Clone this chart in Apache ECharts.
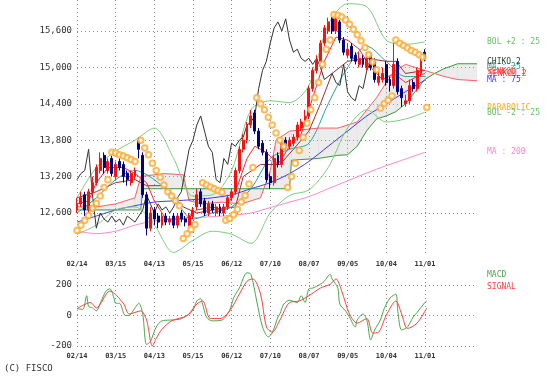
<!DOCTYPE html>
<html><head><meta charset="utf-8">
<script src="https://cdn.jsdelivr.net/npm/echarts@6/dist/echarts.min.js"></script>
<style>html,body{margin:0;padding:0;background:#fff;overflow:hidden}#c{width:552px;height:383px}</style>
</head><body><div id="c"></div><script>
// ---- tick labels (trading-day index 0,20,...,180) ----
const dateLabels = ['02/14','03/15','04/13','05/15','06/12','07/10','08/07','09/05','10/04','11/01'];
const priceTicks = [12600, 13200, 13800, 14400, 15000, 15600];

// ---- candles (one per two trading days) ----
const opens = [12650,12750,12900,12650,12950,13100,13300,13550,13300,13500,
 13200,13450,13400,13250,13100,13200,13800,13550,12900,12350,
 12650,12550,12400,12550,12450,12550,12400,12600,12500,12400,
 12550,12700,12950,12800,12600,12750,12600,12700,12600,12700,
 12850,12950,13300,13650,13800,14050,14250,13950,13750,13600,
 13200,13100,13550,13400,13800,13700,13750,13850,14000,14100,
 14200,14650,14950,15100,15400,15600,15800,15600,15750,15450,
 15200,15350,15200,15050,15150,15000,15200,15100,14750,14800,
 15050,14800,14700,15100,14650,14400,14450,14750,14650,14900,
 15250];
const closes = [12750,12850,12650,12950,13100,13350,13500,13350,13450,13250,
 13400,13350,13200,13150,13250,13300,13650,12900,12350,12600,
 12500,12450,12550,12450,12500,12400,12550,12500,12450,12550,
 12650,12900,12750,12600,12750,12650,12700,12600,12700,12850,
 12950,13300,13650,13800,14050,14200,13950,13700,13600,13150,
 13100,13500,13400,13750,13700,13800,13850,14050,14100,14200,
 14650,14950,15100,15400,15650,15750,15600,15800,15450,15250,
 15300,15150,15100,15150,15050,15150,15000,14800,14850,14900,
 14750,14700,15050,14600,14500,14450,14700,14650,14950,15100,
 15150];
const highs = [12850,12950,12950,13000,13200,13400,13600,13600,13500,13550,
 13450,13500,13450,13300,13300,13350,13850,13600,12950,12700,
 12700,12600,12600,12600,12550,12600,12600,12650,12550,12600,
 12700,13000,13000,12850,12800,12800,12750,12750,12750,12900,
 13000,13350,13700,13900,14100,14300,14300,14000,13800,13650,
 13250,13550,13600,13800,13850,13850,13900,14100,14150,14300,
 14700,15000,15200,15450,15700,15820,15830,15850,15780,15500,
 15400,15400,15250,15250,15200,15250,15250,15150,14950,15000,
 15100,14850,15400,15150,14700,14550,14800,14800,15000,15150,
 15300];
const lows = [12600,12700,12550,12600,12900,13050,13250,13250,13250,13200,
 13150,13300,13100,13050,13050,13150,13500,12850,12230,12300,
 12400,12350,12350,12400,12400,12350,12350,12450,12380,12380,
 12500,12650,12700,12550,12550,12600,12550,12550,12550,12650,
 12800,12900,13250,13600,13750,14000,13900,13650,13550,13100,
 13000,13050,13350,13350,13650,13650,13700,13800,13950,14050,
 14150,14600,14900,15050,15350,15550,15550,15550,15400,15200,
 15150,15100,15050,15000,15000,14950,14950,14750,14700,14750,
 14700,14600,14650,14550,14350,14350,14400,14600,14600,14850,
 15100];

// ---- moving averages & bollinger (sampled every 10 days) ----
const lineDays = [0,10,20,30,40,50,60,70,80,90,100,110,120,130,140,150,160,170,180];
const ma25  = [12600,12850,13150,13300,13150,12850,12500,12600,12700,13000,13500,13650,13750,14400,15000,15350,15100,14850,14850];
const ma75  = [12450,12550,12650,12720,12780,12800,12820,12850,12900,13000,13100,13250,13450,13700,13950,14200,14400,14600,14790];
const ma200 = [12300,12260,12300,12400,12470,12500,12520,12540,12560,12600,12690,12780,12870,13000,13130,13260,13380,13490,13600];
const bolUp = [12850,13350,13620,13800,14000,13500,12880,12900,13300,14300,14450,14420,14700,15700,16050,16000,15450,15380,15420];
const bolDn = [12250,12400,12650,12700,12400,11950,12150,12300,12250,12100,12600,12890,12980,13350,14000,14300,14100,14150,14260];

// ---- ichimoku ----
const tenkanDays = [0,6,10,16,24,30,36,40,46,56,62,70,76,82,88,92,98,104,110,116,122,128,134,140,146,152,158,164,170,176,180];
const tenkan = [12750,12800,13100,13350,13350,13250,13100,12800,12500,12500,12650,12700,12650,12950,13500,13700,13600,13400,13700,13900,14500,15100,15500,15450,15300,15000,14800,14900,14750,14850,14900];
const kijunDays = [0,10,20,30,36,45,55,62,70,82,86,95,105,112,120,126,132,140,150,160,165,170,180];
const kijun = [12850,12950,13100,13150,13050,13050,12700,12600,12650,12700,13200,13400,13400,13650,13950,14400,14900,15100,15150,15100,15100,14900,14950];
const cloudDays = [0,10,20,30,33,34,45,55,58,65,75,85,95,100,103,110,111,125,135,140,145,150,155,160,165,170,175,180,185,190,197,207];
const senkouA = [12700,12700,12750,12850,13200,13230,13250,13230,12800,12750,12780,12750,12850,13300,13800,13950,13950,14000,14000,14050,14100,14300,14500,14750,14950,15050,15000,14950,14900,14850,14800,14780];
const senkouB = [12650,12650,12650,12650,12650,13000,13000,13000,13000,13000,13000,13000,13000,13000,13000,13000,13470,13500,13550,13560,13700,13960,14150,14200,14270,14400,14600,14800,14900,14980,15060,15060];

// ---- parabolic SAR ----
const sarDays = [0,2,4,6,8,10,12,14,16, 18,20,22,24,26,28,30, 33,35,37,39,41,43,45,47,49,51,53, 55,57,59,61, 65,67,69,71,73,75,
 77,79,81,83,85,87,89,91, 93,95,97,99,101,103,105,107, 109,111,113,115,117,119,121,123,125,127,129,131,
 133,135,137,139,141,143,145,147,149,151,153,155, 157,159,161,163, 165,167,169,171,173,175,177,179, 181];
const sarVals = [12310,12400,12480,12560,12680,12760,12880,13020,13150, 13600,13590,13560,13540,13510,13480,13450,
 13800,13670,13560,13420,13300,13190,13060,12950,12880,12800,12720, 12180,12260,12330,12410, 13100,13060,13030,13000,12970,12940,
 12480,12510,12570,12660,12780,12890,13080,13350, 14500,14400,14300,14180,14050,13920,13800,13700,
 13020,13200,13420,13630,13850,14080,14300,14500,14750,15050,15300,15450,
 15870,15860,15830,15780,15710,15630,15540,15440,15330,15210,15090,14960, 14330,14400,14460,14530,
 15450,15400,15360,15320,15280,15250,15210,15170, 14340];

// ---- MACD panel ----
const macdTicks = [-200, 0, 200];
const macdDays = [0,3,5,6,8,10,12,15,17,19,20,22,25,27,29,32,34,36,38,41,44,48,53,57,60,62,64,65,67,70,75,79,81,84,88,90,93,96,99,101,104,105,107,110,114,116,118,120,122,126,128,131,132,135,136,139,141,144,145,148,150,152,154,157,159,162,165,166,168,171,174,176,180,181];
const macdVals = [45,40,130,60,50,30,80,160,175,120,80,80,0,0,30,80,10,-190,-170,-75,-35,-30,-25,0,35,95,110,75,-10,-35,-30,35,115,180,280,270,95,-75,-140,-115,-10,10,75,100,85,130,85,175,180,205,225,270,240,180,75,30,-10,-75,-30,10,-30,-160,-95,-30,45,115,140,30,-95,-75,-10,20,85,95];
const sigDays = [0,7,10,17,24,27,33,36,39,41,44,49,57,62,65,69,74,79,84,88,91,95,98,101,105,110,115,120,126,131,134,137,141,145,150,153,156,160,165,168,171,176,181];
const sigVals = [45,85,50,160,80,10,30,-30,-200,-150,-90,-35,0,75,95,-20,-20,30,140,225,240,140,-75,-110,-30,85,95,130,180,205,240,160,10,-50,-20,-115,-110,0,95,10,-85,-50,50];

// ---------------------------------------------------------------
const chart = echarts.init(document.getElementById('c'));
const pairs = (xs, ys) => xs.map((x, i) => [x, ys[i]]);
const line = (xs, ys, color, extra) => Object.assign({
  type: 'line', data: pairs(xs, ys), xAxisIndex: 0, yAxisIndex: 0, symbol: 'none', clip: false,
  lineStyle: { color: color, width: 1 }, itemStyle: { color: color }, silent: true, z: 3
}, extra || {});
const candleDays = closes.map((_, i) => i * 2);
const chikouDays = [], chikouVals = [];
closes.forEach((c, i) => { if (candleDays[i] >= 26) { chikouDays.push(candleDays[i] - 26); chikouVals.push(c); } });
// cloud segments: [d0, a0, b0, d1, a1, b1]
const cloudSegs = cloudDays.slice(0, -1).map((d, i) =>
  [d, senkouA[i], senkouB[i], cloudDays[i + 1], senkouA[i + 1], senkouB[i + 1]]);

const dotted = { show: true, lineStyle: { color: '#8a8a8a', type: [1, 3], width: 1 } };
const tickFont = { fontFamily: 'DejaVu Sans Mono', fontSize: 9, color: '#333' };
const dateFont = { fontFamily: 'DejaVu Sans Mono', fontSize: 7, fontWeight: 'bold', color: '#333' };
const hiddenX = (grid, max) => ({ type: 'value', gridIndex: grid, min: 0, max: max, show: false });
const hiddenY = (grid) => ({ type: 'value', gridIndex: grid, min: 0, max: 1, show: false });
const dateAxis = (grid, margin) => ({
  type: 'value', gridIndex: grid, min: 0, max: 180, interval: 20,
  axisLine: { show: false }, axisTick: { show: false }, splitLine: dotted,
  axisLabel: Object.assign({ margin: margin, showMinLabel: true, showMaxLabel: true,
    formatter: v => dateLabels[Math.round(v / 20)] || '' }, dateFont)
});
const legendText = (x, y, text, color) => ({ type: 'text', left: x, top: y, silent: true,
  style: { text: text, fill: color, font: '8px "DejaVu Sans Mono"' } });

chart.setOption({
  animation: false,
  backgroundColor: '#ffffff',
  grid: [
    { left: 77, right: 75, top: 31, height: 182 },
    { left: 77, width: 348, top: 0, height: 253 },
    { left: 77, right: 75, top: 285, height: 61 },
    { left: 77, width: 348, top: 270, height: 80 }
  ],
  xAxis: [ hiddenX(0, 207), dateAxis(1, 8), hiddenX(2, 207), dateAxis(3, 3) ],
  yAxis: [
    { type: 'value', gridIndex: 0, min: priceTicks[0], max: priceTicks[priceTicks.length - 1], interval: 600,
      axisLine: { show: false }, axisTick: { show: false }, splitLine: dotted,
      axisLabel: Object.assign({ margin: 5, formatter: v => v.toLocaleString('en-US') }, tickFont) },
    hiddenY(1),
    { type: 'value', gridIndex: 2, min: macdTicks[0], max: macdTicks[2], interval: 200,
      axisLine: { show: false }, axisTick: { show: false }, splitLine: dotted,
      axisLabel: Object.assign({ margin: 5 }, tickFont) },
    hiddenY(3)
  ],
  series: [
    { type: 'custom', xAxisIndex: 0, yAxisIndex: 0, silent: true, z: 1, clip: false,
      data: cloudSegs,
      renderItem: (params, api) => {
        const p = [api.coord([api.value(0), api.value(1)]), api.coord([api.value(3), api.value(4)]),
                   api.coord([api.value(3), api.value(5)]), api.coord([api.value(0), api.value(2)])];
        return { type: 'polygon', shape: { points: p },
          style: { fill: 'rgba(185,185,185,0.28)', stroke: 'rgba(185,185,185,0.28)', lineWidth: 0.3 } };
      } },
    line(lineDays, ma200, '#ff88cc', { smooth: 0.3 }),
    line(cloudDays, senkouB, '#3c9a3c'),
    line(cloudDays, senkouA, '#ff6060'),
    line(lineDays, ma75, '#3a3aff', { smooth: 0.3 }),
    line(lineDays, bolUp, '#7ccf7c', { smooth: 0.3 }),
    line(lineDays, bolDn, '#7ccf7c', { smooth: 0.3 }),
    line(kijunDays, kijun, '#9a3030'),
    line(tenkanDays, tenkan, '#ff2a2a'),
    line(lineDays, ma25, '#2aa0a0', { smooth: 0.3 }),
    line(chikouDays, chikouVals, '#333333'),
    { type: 'candlestick', xAxisIndex: 0, yAxisIndex: 0, clip: false, silent: true, z: 4,
      encode: { x: 0, y: [1, 2, 3, 4] }, barWidth: 2.4,
      data: candleDays.map((d, i) => [d, opens[i], closes[i], lows[i], highs[i]]),
      itemStyle: { color: '#ff1010', color0: '#000080', borderColor: '#ff1010', borderColor0: '#000080', borderWidth: 1 } },
    { type: 'scatter', xAxisIndex: 0, yAxisIndex: 0, clip: false, silent: true, z: 5,
      symbol: 'emptyCircle', symbolSize: 5.5, data: pairs(sarDays, sarVals),
      itemStyle: { color: '#ffaa30', borderColor: '#ffaa30', borderWidth: 1.3 } },
    line(macdDays, macdVals, '#4aa84a', { xAxisIndex: 2, yAxisIndex: 2, smooth: 0.3 }),
    line(sigDays, sigVals, '#ff4040', { xAxisIndex: 2, yAxisIndex: 2, smooth: 0.3 })
  ],
  graphic: [
    legendText(487, 38, 'BOL +2 : 25', '#66c266'),
    legendText(487, 63, 'MA : 25', '#2aa0a0'),
    legendText(487, 68, 'SENKOU_1', '#ff4040'),
    legendText(488, 70, 'SENKOU_2', '#ff3a3a'),
    legendText(487, 58, 'CHIKO_2', '#2c4a2c'),
    legendText(487, 76, 'MA : 75', '#3a3aff'),
    legendText(487, 104, 'PARABOLIC', '#ffa820'),
    legendText(487, 109, 'BOL -2 : 25', '#66c266'),
    legendText(487, 148, 'MA : 200', '#ff88cc'),
    legendText(487, 271, 'MACD', '#4aa84a'),
    legendText(487, 283, 'SIGNAL', '#ff4040'),
    { type: 'text', left: 4, top: 364, silent: true, style: { text: '(C) FISCO', fill: '#333', font: '9px "DejaVu Sans Mono"' } }
  ]
});
</script></body></html>
